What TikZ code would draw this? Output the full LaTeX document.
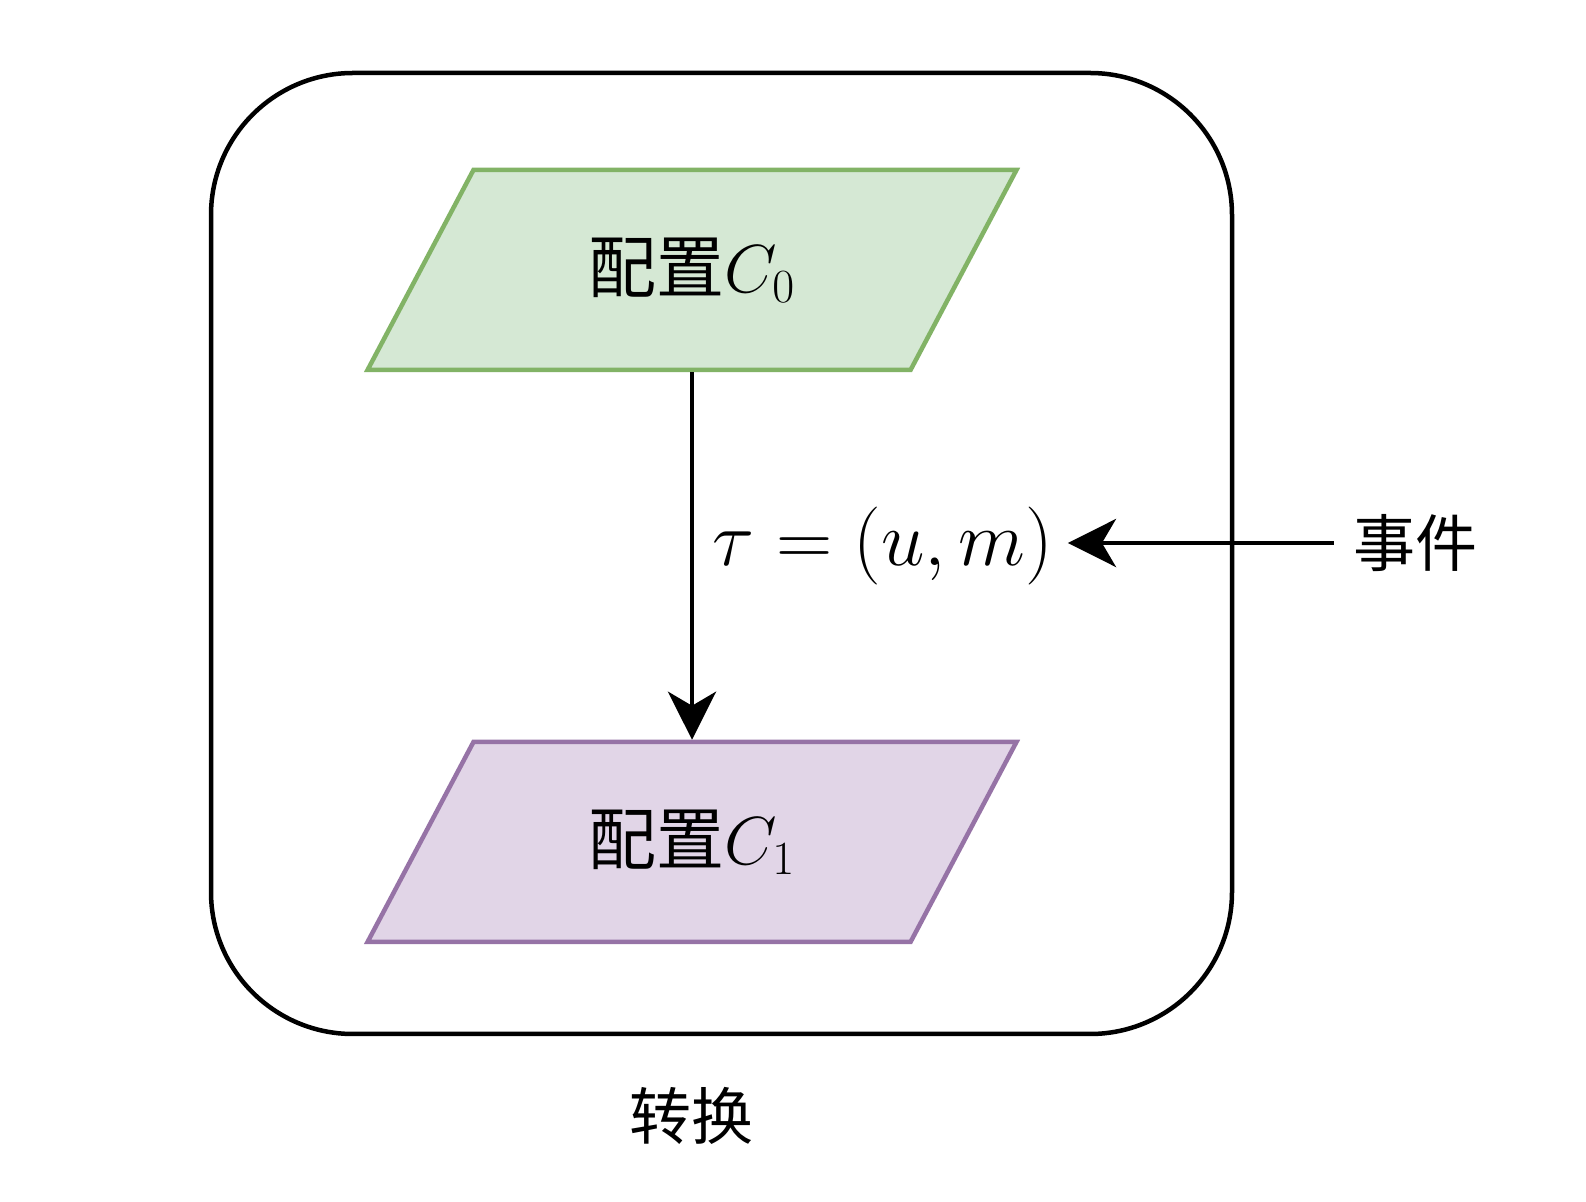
\RequirePackage{fix-cm}
\documentclass[tikz,border=0pt]{standalone}
\usepackage{fontspec}
\newfontfamily\cjk{Noto Sans CJK SC}
\usetikzlibrary{shapes.geometric,arrows.meta}

\definecolor{cfggreen}{HTML}{D5E8D4}
\definecolor{cfggreenline}{HTML}{82B366}
\definecolor{cfgpurple}{HTML}{E1D5E7}
\definecolor{cfgpurpleline}{HTML}{9673A6}

\begin{document}
\begin{tikzpicture}[x=0.5pt, y=-0.5pt,
  cfg/.style = {trapezium, trapezium left angle=55.7, trapezium right angle=124.3,
    trapezium stretches=true, minimum width=325pt, minimum height=100pt,
    line width=2.25pt, font=\fontsize{34}{40}\selectfont\cjk},
  lbl/.style = {inner sep=0pt, font=\fontsize{31}{37}\selectfont\cjk},
  arr/.style = {line width=2.25pt, -{Stealth[length=24pt, width=24pt, inset=7pt]}},]

\useasboundingbox (0,0) rectangle (1586,1202);

\node[draw, line width=2.25pt, rounded corners=71pt, minimum width=510.5pt, minimum height=480.5pt] (trans) at (721.5, 553.5) {};

\node[cfg, draw=cfggreenline, fill=cfggreen] (cfgzero) at (692, 270) {配置$C_0$};
\node[cfg, draw=cfgpurpleline, fill=cfgpurple] (cfgone) at (692, 842) {配置$C_1$};

\node[inner sep=0pt, font=\fontsize{39}{46}\selectfont] (tau) at (883, 546) {$\tau=(u,m)$};
\node[lbl] (evt) at (1415, 543) {事件};
\node[lbl] (transname) at (691, 1116) {转换};

\draw[arr] (cfgzero.south) -- (cfgone.north);
\draw[arr, shorten <=9.5pt, shorten >=7pt] (evt.west) -- (evt.west -| tau.east);

\end{tikzpicture}
\end{document}
